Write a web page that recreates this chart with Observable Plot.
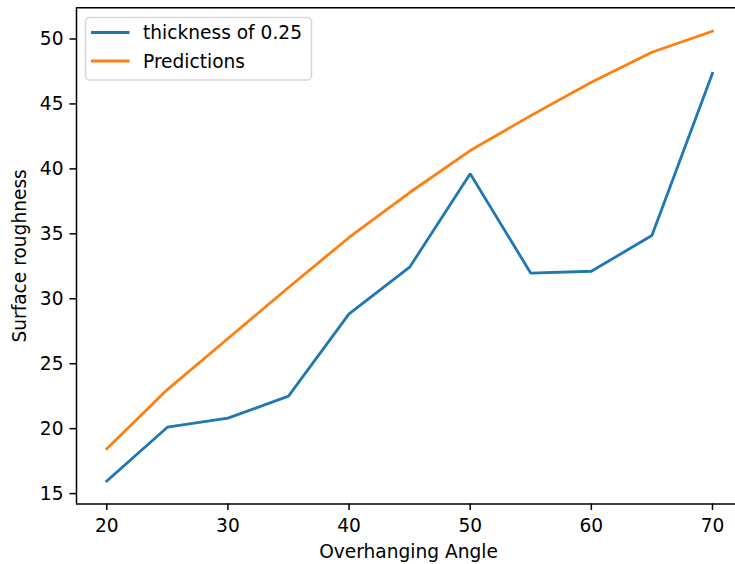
<!DOCTYPE html>
<html>
<head>
<meta charset="utf-8">
<script src="https://cdn.jsdelivr.net/npm/d3@7"></script>
<script src="https://cdn.jsdelivr.net/npm/@observablehq/plot@0.6"></script>
<style>
  html, body { margin: 0; padding: 0; background: #fff; }
  #wrap { position: relative; width: 735px; height: 564px; overflow: hidden; font-family: "DejaVu Sans", sans-serif; }
  #legend { position: absolute; left: 0; top: 0; pointer-events: none; }
</style>
</head>
<body>
<div id="wrap"></div>
<script>
// ---- data ----
const angles = [20, 25, 30, 35, 40, 45, 50, 55, 60, 65, 70];
const thickness = [15.96, 20.11, 20.81, 22.5, 28.84, 32.43, 39.62, 31.97, 32.12, 34.87, 47.36];
const predictions = [18.45, 23.01, 26.94, 30.87, 34.72, 38.18, 41.41, 44.1, 46.67, 48.98, 50.6];
const seriesNames = ["thickness of 0.25", "Predictions"];
const seriesColors = ["#1f77b4", "#ff7f0e"];
const xTicks = [20, 30, 40, 50, 60, 70];
const yTicks = [15, 20, 25, 30, 35, 40, 45, 50];
const xLabel = "Overhanging Angle";
const yLabel = "Surface roughness";

const rows = [];
angles.forEach((a, i) => {
  rows.push({angle: a, value: thickness[i], series: seriesNames[0]});
});
angles.forEach((a, i) => {
  rows.push({angle: a, value: predictions[i], series: seriesNames[1]});
});

const xDomain = [17.5, 71.9];
const yDomain = [14.2, 52.4];
const FS = 18.6;

const chart = Plot.plot({
  width: 735,
  height: 564,
  marginLeft: 76,
  marginRight: 0,
  marginTop: 7.3,
  marginBottom: 60.5,
  style: {fontFamily: "DejaVu Sans", fontSize: FS + "px", color: "#000", background: "#fff"},
  x: {domain: xDomain},
  y: {domain: yDomain},
  color: {domain: seriesNames, range: seriesColors},
  marks: [
    Plot.lineY(rows, {x: "angle", y: "value", z: "series", stroke: "series", strokeWidth: 2.8, strokeLinejoin: "miter", strokeLinecap: "square"}),
    Plot.ruleY([yDomain[0]], {stroke: "#000", strokeWidth: 1.5}),
    Plot.ruleY([yDomain[1]], {stroke: "#000", strokeWidth: 1.5}),
    Plot.ruleX([xDomain[0]], {stroke: "#000", strokeWidth: 1.5}),
    Plot.axisX({ticks: xTicks, tickSize: 6.5, tickPadding: 8, strokeWidth: 1.5, stroke: "#000", fill: "#000", fontSize: FS, label: null}),
    Plot.axisY({ticks: yTicks, tickSize: 6.5, tickPadding: 6.5, strokeWidth: 1.5, stroke: "#000", fill: "#000", fontSize: FS, label: null}),
    Plot.text([xLabel], {frameAnchor: "bottom", text: d => d, dx: 2.5, dy: 53.5, lineAnchor: "bottom", fontSize: FS, fill: "#000"}),
    Plot.text([yLabel], {frameAnchor: "left", text: d => d, rotate: -90, dx: -50.5, lineAnchor: "bottom", textAnchor: "middle", fontSize: FS, fill: "#000"})
  ]
});

const wrap = document.getElementById("wrap");
wrap.appendChild(chart);

// ---- legend (matplotlib-style box, upper left) ----
const svgNS = "http://www.w3.org/2000/svg";
const lg = document.createElementNS(svgNS, "svg");
lg.setAttribute("id", "legend");
lg.setAttribute("width", 735);
lg.setAttribute("height", 564);
const box = document.createElementNS(svgNS, "rect");
box.setAttribute("x", 85.5);
box.setAttribute("y", 17.5);
box.setAttribute("width", 226);
box.setAttribute("height", 62.5);
box.setAttribute("rx", 4);
box.setAttribute("fill", "rgba(255,255,255,0.8)");
box.setAttribute("stroke", "rgba(204,204,204,0.8)");
box.setAttribute("stroke-width", 1.5);
lg.appendChild(box);
seriesNames.forEach((name, i) => {
  const cy = 32.5 + i * 28.5;
  const ln = document.createElementNS(svgNS, "line");
  ln.setAttribute("x1", 91);
  ln.setAttribute("x2", 129.5);
  ln.setAttribute("y1", cy);
  ln.setAttribute("y2", cy);
  ln.setAttribute("stroke", seriesColors[i]);
  ln.setAttribute("stroke-width", 2.8);
  lg.appendChild(ln);
  const tx = document.createElementNS(svgNS, "text");
  tx.setAttribute("x", 143);
  tx.setAttribute("y", cy + 6.8);
  tx.setAttribute("font-family", "DejaVu Sans");
  tx.setAttribute("font-size", FS);
  tx.setAttribute("fill", "#000");
  tx.textContent = name;
  lg.appendChild(tx);
});
wrap.appendChild(lg);
</script>
</body>
</html>
